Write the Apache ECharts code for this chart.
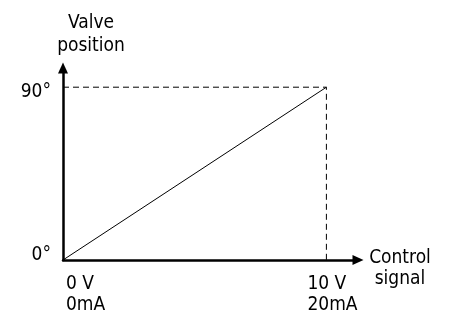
<!DOCTYPE html>
<html><head><meta charset="utf-8">
<script src="https://cdn.jsdelivr.net/npm/echarts@6/dist/echarts.min.js"></script>
<style>html,body{margin:0;padding:0;background:#fff}#c{width:450px;height:318px}</style>
</head><body><div id="c"></div>
<script>
// ---- data ----
const signalValues = [0, 10];          // control signal (V)
const positionValues = [0, 90];        // valve position (deg)
const guideX = [0, 10, 10];            // dashed guide line
const guideY = [90, 90, 0];
const xTickValues = [0, 10];
const xTickLabels = ['0 V\n0mA', '10 V\n20mA'];
const yTickValues = [0, 90];
const yTickLabels = ['0°', '90°'];
const xAxisName = ['Control', 'signal'];
const yAxisName = 'Valve\nposition';

const FONT = '"DejaVu Sans Condensed", "DejaVu Sans", sans-serif';
const FS = 19;
const txt = {color: '#000', fontFamily: FONT, fontSize: FS};

function xLabel(v) { return xTickLabels[xTickValues.indexOf(v)]; }
function yLabel(v) { return yTickLabels[yTickValues.indexOf(v)]; }

const chart = echarts.init(document.getElementById('c'), null, {renderer: 'canvas'});
const axisLineStyle = {color: '#000', width: 2.5};
chart.setOption({
  animation: false,
  backgroundColor: '#fff',
  grid: {left: 63, right: 92, top: 68, bottom: 58, containLabel: false, outerBoundsMode: 'none'},
  xAxis: [{
    type: 'value', min: 0, max: 11.2, position: 'bottom',
    name: '{a|' + xAxisName[0] + '}\n{b|' + xAxisName[1] + '}', nameLocation: 'end', nameGap: 42, nameMoveOverlap: false,
    nameTextStyle: Object.assign({}, txt, {align: 'center', verticalAlign: 'middle',
      rich: {
        a: Object.assign({}, txt, {align: 'center', lineHeight: 38}),
        b: Object.assign({}, txt, {align: 'center', lineHeight: 4})
      }}),
    axisLine: {show: true, onZero: false, lineStyle: axisLineStyle, symbol: ['none', 'triangle'], symbolSize: [10, 11]},
    axisTick: {show: false}, splitLine: {show: false},
    axisLabel: Object.assign({}, txt, {customValues: [xTickValues[0]], formatter: xLabel, align: 'left', lineHeight: 21, margin: 14, padding: [0, 0, 0, 3]})
  }, {
    type: 'value', min: 0, max: 11.2, position: 'bottom',
    axisLine: {show: false}, axisTick: {show: false}, splitLine: {show: false},
    axisLabel: Object.assign({}, txt, {customValues: [xTickValues[1]], align: 'center', margin: 14,
      formatter: function (v) { return xLabel(v).split('\n').map(function (s) { return '{t|' + s + '}'; }).join('\n'); },
      rich: {t: {width: 38, align: 'left', color: '#000', fontFamily: FONT, fontSize: FS, lineHeight: 21}}})
  }],
  yAxis: [{
    type: 'value', min: 0, max: 100, position: 'left',
    name: yAxisName, nameLocation: 'end', nameGap: 10, nameMoveOverlap: false,
    nameTextStyle: Object.assign({}, txt, {align: 'center', lineHeight: 23, padding: [0, 0, 0, 56]}),
    axisLine: {show: true, onZero: false, lineStyle: axisLineStyle, symbol: ['none', 'triangle'], symbolSize: [10, 11]},
    axisTick: {show: false}, splitLine: {show: false},
    axisLabel: Object.assign({}, txt, {customValues: [yTickValues[0]], formatter: yLabel, margin: 12, verticalAlign: 'bottom', lineHeight: 10})
  }, {
    type: 'value', min: 0, max: 100, position: 'left',
    axisLine: {show: false}, axisTick: {show: false}, splitLine: {show: false},
    axisLabel: Object.assign({}, txt, {customValues: [yTickValues[1]], formatter: yLabel, margin: 12, verticalAlign: 'top', lineHeight: 10})
  }],
  series: [{
    type: 'line', xAxisIndex: 0, yAxisIndex: 0, symbol: 'none', silent: true,
    data: guideX.map(function (x, i) { return [x, guideY[i]]; }),
    lineStyle: {color: '#000', width: 1, type: [6, 4]}
  }, {
    type: 'line', xAxisIndex: 0, yAxisIndex: 0, symbol: 'none', silent: true,
    data: signalValues.map(function (x, i) { return [x, positionValues[i]]; }),
    lineStyle: {color: '#000', width: 1}
  }]
});
</script>
</body></html>
